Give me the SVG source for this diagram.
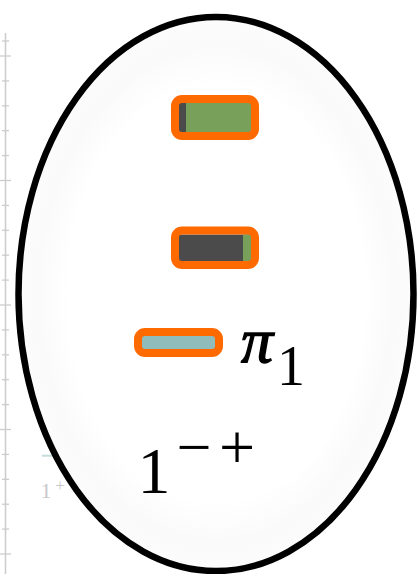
<svg xmlns="http://www.w3.org/2000/svg" width="419" height="574" viewBox="0 0 419 574">
<defs>
<radialGradient id="fillGrad" cx="0.5" cy="0.5" r="0.5">
<stop offset="0" stop-color="#ffffff"/>
<stop offset="0.75" stop-color="#ffffff"/>
<stop offset="0.9" stop-color="#fafafa"/>
<stop offset="1" stop-color="#fcfcfc"/>
</radialGradient>
<style>
.tick{stroke:#cccccc;stroke-width:1.3}
.frame{fill:none;stroke:#ff6a00;stroke-width:8}
.serif{font-family:"Liberation Serif","Times New Roman",serif;fill:#000}
</style>
</defs>
<rect width="419" height="574" fill="#ffffff"/>
<g id="axis">
<line x1="5.5" y1="33" x2="5.5" y2="574" stroke="#cccccc" stroke-width="1.5"/>
<line class="tick" x1="2" y1="41" x2="9" y2="41"/>
<line class="tick" x1="0" y1="56" x2="11" y2="56"/>
<line class="tick" x1="2" y1="80.9" x2="9" y2="80.9"/>
<line class="tick" x1="2" y1="105.8" x2="9" y2="105.8"/>
<line class="tick" x1="2" y1="130.7" x2="9" y2="130.7"/>
<line class="tick" x1="2" y1="155.6" x2="9" y2="155.6"/>
<line class="tick" x1="0" y1="180.5" x2="11" y2="180.5"/>
<line class="tick" x1="2" y1="205.4" x2="9" y2="205.4"/>
<line class="tick" x1="2" y1="230.3" x2="9" y2="230.3"/>
<line class="tick" x1="2" y1="255.2" x2="9" y2="255.2"/>
<line class="tick" x1="2" y1="280.1" x2="9" y2="280.1"/>
<line class="tick" x1="0" y1="305" x2="11" y2="305"/>
<line class="tick" x1="2" y1="329.9" x2="9" y2="329.9"/>
<line class="tick" x1="2" y1="354.8" x2="9" y2="354.8"/>
<line class="tick" x1="2" y1="379.7" x2="9" y2="379.7"/>
<line class="tick" x1="2" y1="404.6" x2="9" y2="404.6"/>
<line class="tick" x1="0" y1="429.5" x2="11" y2="429.5"/>
<line class="tick" x1="2" y1="454.4" x2="9" y2="454.4"/>
<line class="tick" x1="2" y1="479.3" x2="9" y2="479.3"/>
<line class="tick" x1="2" y1="504.2" x2="9" y2="504.2"/>
<line class="tick" x1="2" y1="529.1" x2="9" y2="529.1"/>
<line class="tick" x1="0" y1="554" x2="11" y2="554"/>
<line x1="42" y1="455.7" x2="53" y2="455.7" stroke="#c4dcdc" stroke-width="2"/>
<text x="46" y="498" font-family="Liberation Serif, serif" font-size="22" fill="#c8c8c8" text-anchor="middle">1</text>
<text x="60" y="491" font-family="Liberation Serif, serif" font-size="17" fill="#c8c8c8" text-anchor="middle">+</text>
</g>
<g id="boundary">
<ellipse cx="216" cy="294" rx="197.5" ry="277" fill="url(#fillGrad)" stroke="#000" stroke-width="6.5"/>
</g>
<g id="connectors"/>
<g id="state-top">
<rect x="179" y="103" width="72" height="29" fill="#79a05b"/>
<rect x="179" y="103" width="7" height="29" fill="#4b4b4b"/>
<rect class="frame" x="175" y="99" width="80" height="37" rx="7"/>
</g>
<g id="state-middle">
<rect x="179" y="234.5" width="72" height="26.5" fill="#4b4b4b"/>
<rect x="243" y="234.5" width="8" height="26.5" fill="#79a05b"/>
<rect class="frame" x="175" y="230.5" width="80" height="34.5" rx="7"/>
</g>
<g id="state-pi1">
<rect x="142" y="336" width="77" height="13" fill="#90bcbc"/>
<rect class="frame" x="138" y="332" width="81" height="21" rx="7"/>
<text class="serif" x="241" y="362" font-size="64" font-style="italic" stroke="#000" stroke-width="1.4">π</text>
<text class="serif" x="291" y="385" font-size="56" text-anchor="middle">1</text>
</g>
<g id="label-jpc">
<text class="serif" x="154" y="493" font-size="66" text-anchor="middle">1</text>
<text class="serif" x="194" y="468" font-size="62" text-anchor="middle">−</text>
<text class="serif" x="237" y="469" font-size="64" text-anchor="middle">+</text>
</g>
</svg>
